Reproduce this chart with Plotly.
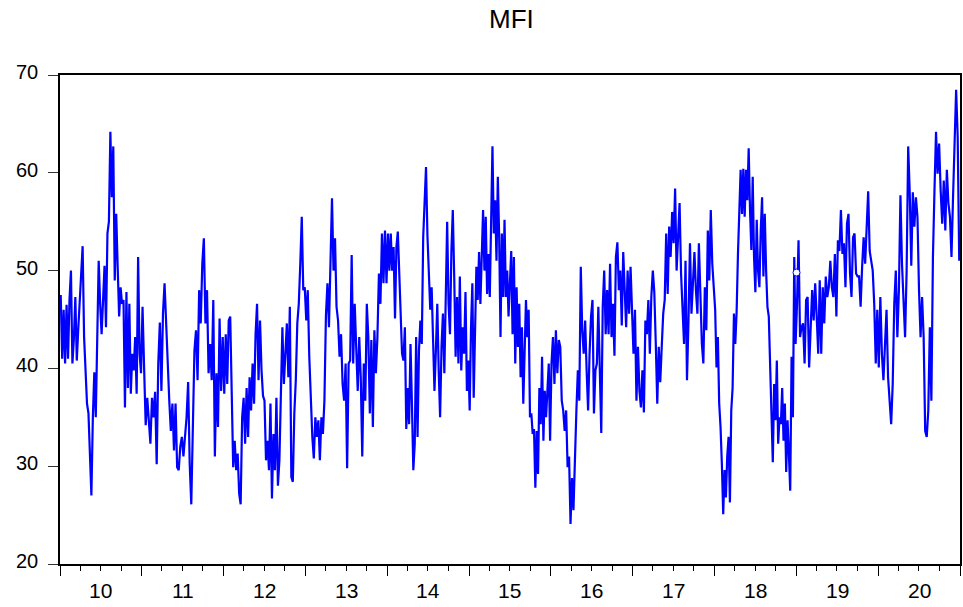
import pandas as pd
import plotly.graph_objects as go

# Money Flow Index, sampled observations for each calendar year
mfi_2010 = [47.5, 41, 46, 40.5, 46.5, 41, 47, 50, 40.5, 43, 47.3, 40.8, 44, 47, 49.4,
            52.5, 43.2, 39.3, 36.4, 35.4, 31, 27, 35, 39.6, 35, 45.3, 51, 46.6, 43.5, 47,
            50.5, 44.2, 53.8, 55, 64.2, 57.5, 62.7, 49, 55.8, 50.4, 45.3, 48.3, 46.6, 47,
            36, 47.8, 38, 46.6, 37.4, 41.5, 39.8, 43.2, 37.4, 51.4, 41.5, 39.5]
mfi_2011 = [46.3, 40, 34.2, 37, 34.7, 32.3, 37, 35, 37.6, 30.2, 40.5, 44.7, 37.7, 45.6,
            48.7, 44, 40.8, 36.7, 33.6, 36.4, 31.6, 36.4, 29.9, 29.6, 32, 33, 31, 33, 35,
            38.6, 30.2, 26.1, 34.3, 41.8, 43.9, 38.8, 48, 44.6, 50.7, 53.3, 44.6, 48, 39.5,
            42.5, 38.8, 47, 31, 39.5, 34, 45.1, 37.7, 43.2]
mfi_2012 = [37.4, 43.5, 38.4, 44.9, 45.3, 38.4, 29.9, 32.6, 29.6, 31.3, 27.2, 26.1, 35,
            37, 32.3, 38, 33, 39.1, 35.7, 40.5, 36.4, 43.5, 46.6, 38.8, 44.9, 39.8, 37.2,
            36.7, 30.6, 32.6, 29.6, 36.4, 26.7, 33.3, 29.6, 37, 28, 30.6, 39.1, 44.2, 38.4,
            41.5, 44.6, 39.1, 46.3, 28.9, 28.4, 35.4, 38.8, 44.6, 46.6, 50.7, 55.5, 48, 48.3]
mfi_2013 = [44.9, 48, 41.2, 36.4, 33, 30.8, 35, 33, 34.7, 30.6, 35, 33.3, 36.7, 45.4,
            48.7, 44.2, 50.4, 57.4, 50, 53.3, 46.3, 44.9, 41.2, 43.5, 38.4, 36.7, 40.5,
            29.8, 40.5, 40.8, 51.6, 40.5, 46.6, 41.2, 37.7, 43.2, 39.1, 31, 40.5, 36.7,
            46.6, 43.2, 35.4, 42.9, 34, 43.9, 39.5, 43.2, 49.7, 46.6, 53.8, 48.7, 54.1, 48.7]
mfi_2014 = [53.8, 50, 53.8, 50, 52.4, 45.1, 52.4, 54, 50.4, 46.6, 41.5, 40.8, 44.2, 33.8,
            38, 34.3, 42.5, 36.4, 29.6, 32.3, 43.2, 33, 41.8, 44.9, 42.5, 53.4, 57.2, 60.6,
            53.6, 50, 46, 48.3, 43.2, 37.7, 41.8, 46.6, 39.8, 35, 42.2, 45.6, 39.5, 48.3,
            55, 46.6, 43.5, 52, 56.2, 49.4, 41.2, 47.3, 40.5, 49.4, 39.8, 44.2, 41.5, 47.8,
            37.7, 40.8]
mfi_2015 = [35.7, 44.2, 48.7, 37, 42.9, 50.4, 47, 51.9, 46.6, 52.4, 56.2, 50, 55.5, 47.6,
            51.7, 47.3, 54.1, 62.7, 53.8, 57.2, 51, 59.6, 53.4, 43.2, 53.8, 47.3, 55.2,
            47.3, 50, 45.3, 48.7, 52, 43.5, 51.4, 40.5, 48.3, 42.2, 46.6, 39.1, 44.2, 36.4,
            41.8, 47, 43.2, 46, 35, 35.4, 33.3, 33.8, 27.8, 33.6, 29.2, 38, 34.3, 41.2,
            32.6, 37.7, 35, 38, 40.5, 32.6]
mfi_2016 = [40.5, 43.2, 38.4, 43.9, 39.5, 42.9, 42.2, 36.7, 35.7, 33.6, 35.7, 29.9, 31,
            24.1, 28.8, 25.5, 31.3, 35.7, 39.8, 36.7, 50.4, 43.9, 41.5, 44.9, 39.8, 35.7,
            41.5, 45.3, 47, 35.4, 39.8, 40.5, 46.3, 40.5, 33.4, 46.3, 50, 43.5, 48, 43.5,
            50.7, 43.2, 46.6, 41.3, 51.4, 52.9, 48, 50, 44.4, 51.9, 48, 44.2, 50, 45.6,
            50.4, 46.6]
mfi_2017 = [41.5, 46, 36.7, 42.2, 37.7, 36, 39.8, 35.5, 44.9, 43.5, 47, 41.5, 47.3, 50,
            47.8, 42.5, 36.4, 42.2, 38.6, 42.2, 45.6, 47, 53.8, 47.6, 54.5, 51.4, 56, 52.8,
            58.4, 50, 52.8, 56.9, 49.7, 45.6, 42.5, 51, 38.8, 44.9, 52.8, 45.6, 48.3, 51.9,
            48, 45.6, 52.8, 48, 42.5, 40.5, 48.3, 43.9, 54.1, 49, 56.2, 50.7, 48]
mfi_2018 = [46, 40.1, 43.2, 36.4, 34, 30.2, 25.1, 29.6, 26.8, 31, 33, 26.3, 35.7, 38,
            45.6, 42.5, 45.8, 51.7, 55.5, 60.3, 55.8, 60.4, 55.5, 60.3, 57.2, 62.5, 56.2,
            52.1, 59.6, 51.4, 47.8, 55.2, 50, 48.3, 54.1, 57.5, 49.4, 55.8, 50, 46.3, 45.3,
            39.1, 35.4, 30.4, 38.4, 34.7, 40.8, 32.3, 35, 34.3, 38, 32.6, 36.4, 29.4, 34.7,
            31.3, 27.5, 41.2, 35, 51.4, 42.5]
mfi_2019 = [46.6, 53.1, 43.2, 44.2, 44.6, 40.5, 47, 47.3, 40.1, 44.6, 48, 44.9, 48.7,
            45.3, 41.5, 49, 41.5, 48.3, 44.6, 49.4, 47.3, 48.3, 51, 48.3, 47.3, 51.7, 45.3,
            53.1, 52, 56.2, 51.7, 52.8, 48.3, 54.8, 55.8, 49.7, 47.3, 53.4, 53.8, 49.7,
            49.4, 49.4, 46.3, 50.4, 53.4, 50.7, 53.8, 58.1, 52, 50.7, 50, 46.6, 40.5, 46]
mfi_2020 = [40.1, 47.3, 41.5, 38.8, 42.9, 46, 39.1, 36.4, 34.3, 38.4, 46.6, 50, 43.2, 48,
            57.7, 50.7, 47, 43.2, 50, 62.7, 58, 50.5, 58, 54.5, 57.5, 55.5, 48, 43.2, 47.3,
            43.2, 33.6, 33, 35.7, 44.2, 36.7, 51.4, 58.2, 64.2, 59.9, 63, 58.2, 54.8, 59.2,
            54.1, 60.3, 56.9, 55.5, 51.4, 57.5, 62.7, 68.5, 63.7, 51]

# Single observation isolated between missing values
isolated_date = "2019-01-02"
isolated_value = 49.8

years = list(range(2010, 2021))
year_labels = ["10", "11", "12", "13", "14", "15", "16", "17", "18", "19", "20"]
y_ticks = [20, 30, 40, 50, 60, 70]

yearly = [mfi_2010, mfi_2011, mfi_2012, mfi_2013, mfi_2014, mfi_2015,
          mfi_2016, mfi_2017, mfi_2018, mfi_2019, mfi_2020]

dates, values = [], []
for yr, vals in zip(years, yearly):
    start = pd.Timestamp(f"{yr}-01-01")
    span = pd.Timestamp(f"{yr + 1}-01-01") - start
    n = len(vals)
    for i, v in enumerate(vals):
        dates.append(start + span * ((i + 0.5) / n))
        values.append(v)

FONT = "Liberation Sans, Arial, sans-serif"

fig = go.Figure()
fig.add_trace(go.Scatter(
    x=dates, y=values, mode="lines",
    line=dict(color="#0000FF", width=2.2),
    showlegend=False, hoverinfo="skip",
))
fig.add_trace(go.Scatter(
    x=[pd.Timestamp(isolated_date)], y=[isolated_value], mode="markers",
    marker=dict(symbol="circle", size=7, color="white",
                line=dict(color="#0000FF", width=1)),
    showlegend=False, hoverinfo="skip",
))

year_starts = [pd.Timestamp(f"{y}-01-01") for y in years + [2021]]
quarter_ticks = [pd.Timestamp(f"{y}-{m:02d}-01") for y in years for m in (4, 7, 10)]

fig.update_layout(
    width=963, height=607,
    margin=dict(l=60, r=1, t=75, b=43),
    paper_bgcolor="white", plot_bgcolor="white",
    font=dict(family=FONT, color="black"),
    title=dict(text="MFI", x=0.531, xanchor="center", y=1 - 19 / 607,
               yanchor="middle", yref="container",
               font=dict(family=FONT, size=26, color="black")),
    xaxis=dict(
        type="date",
        range=[pd.Timestamp("2010-01-01"), pd.Timestamp("2021-01-01")],
        tickmode="array", tickvals=year_starts, showticklabels=False,
        ticks="outside", ticklen=10, tickwidth=1, tickcolor="black",
        minor=dict(tickmode="array", tickvals=quarter_ticks, ticks="outside",
                   ticklen=5, tickwidth=1, tickcolor="black", showgrid=False),
        showline=True, linecolor="black", linewidth=1.5, mirror=True,
        showgrid=False, zeroline=False,
    ),
    yaxis=dict(
        range=[20, 70], tickmode="array", tickvals=y_ticks,
        ticktext=[str(v) for v in y_ticks],
        ticks="outside", ticklen=10, tickwidth=1, tickcolor="#333333",
        ticklabelstandoff=6, ticklabelshift=-3,
        tickfont=dict(family=FONT, size=20, color="black"),
        showline=True, linecolor="black", linewidth=1.5, mirror=True,
        showgrid=False, zeroline=False,
    ),
)

for yr, lab in zip(years, year_labels):
    fig.add_annotation(
        x=pd.Timestamp(f"{yr}-07-02"), y=0, xref="x", yref="paper",
        yanchor="middle", yshift=-26, text=lab, showarrow=False,
        font=dict(family=FONT, size=21, color="black"),
    )

fig.write_html("out.html")
